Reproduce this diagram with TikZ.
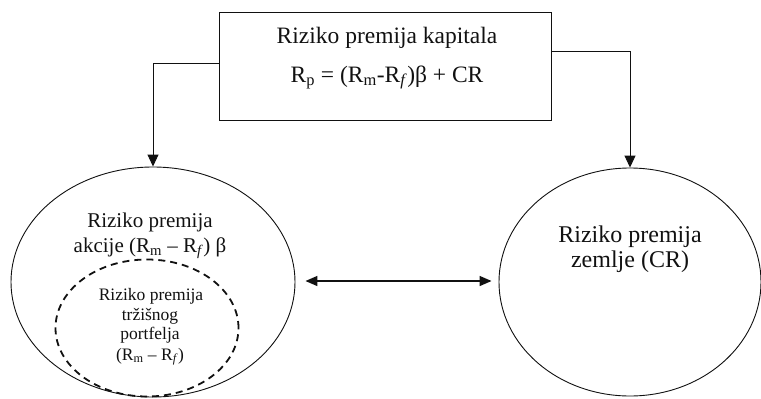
\documentclass[tikz,border=0pt]{standalone}
\usepackage{fontspec}
\setmainfont{Liberation Serif}
\usetikzlibrary{arrows.meta, shapes.geometric}
\definecolor{inkblk}{HTML}{111111}

\begin{document}
\begin{tikzpicture}[
  x=1pt, y=-1pt,
  >={Triangle[length=12pt, width=11pt]},
  conn/.style={->, inkblk, line width=1pt},
  oval/.style={ellipse, draw=inkblk, line width=0.9pt, inner sep=0pt},
  lbl/.style={inkblk, anchor=base, inner sep=0pt},
]

% ══════════════════════════════════════════════════════
% Canvas
% ══════════════════════════════════════════════════════
\useasboundingbox (0,0) rectangle (761,399);

% ══════════════════════════════════════════════════════
% Top box: capital risk premium
% ══════════════════════════════════════════════════════
\node[draw=inkblk, line width=1pt, minimum width=332pt, minimum height=108pt,
  inner sep=0pt] (kapital) at (385,66) {};
\node[lbl, font=\fontsize{23.5}{26}\selectfont] (kapT) at (387,43)
  {Riziko premija kapitala};
\node[lbl, font=\fontsize{23.5}{26}\selectfont] (kapF) at (387,82)
  {R\textsubscript{p} = (R\textsubscript{m}-R\textsubscript{\textit{f}})β + CR};

% ══════════════════════════════════════════════════════
% Ellipses
% ══════════════════════════════════════════════════════
\node[oval, minimum width=284pt, minimum height=230pt] (akcije) at (153,282) {};
\node[oval, dash pattern=on 7pt off 5pt, line width=1.8pt,
  minimum width=183pt, minimum height=137pt] (trziste) at (147,328) {};
\node[oval, minimum width=262pt, minimum height=228pt] (zemlja) at (630,282) {};

% Labels inside the left ellipse
\node[lbl, font=\fontsize{21}{24}\selectfont] (akcT1) at (150,227) {Riziko premija};
\node[lbl, font=\fontsize{21}{24}\selectfont] (akcT2) at (150,252)
  {akcije (R\textsubscript{m} – R\textsubscript{\textit{f}}) β};

% Labels inside the dashed ellipse
\node[lbl, font=\fontsize{17.5}{19}\selectfont] (trzT1) at (151,300) {Riziko premija};
\node[lbl, font=\fontsize{17.5}{19}\selectfont] (trzT2) at (150,320) {tržišnog};
\node[lbl, font=\fontsize{17.5}{19}\selectfont] (trzT3) at (150,339) {portfelja};
\node[lbl, font=\fontsize{17.5}{19}\selectfont] (trzT4) at (150,360)
  {(R\textsubscript{m} – R\textsubscript{\textit{f}})};

% Labels inside the right ellipse
\node[lbl, font=\fontsize{24}{27}\selectfont] (zemT1) at (630,242) {Riziko premija};
\node[lbl, font=\fontsize{24}{27}\selectfont] (zemT2) at (630,267) {zemlje (CR)};

% ══════════════════════════════════════════════════════
% Connectors
% ══════════════════════════════════════════════════════
\draw[conn] ([yshift=3pt]kapital.west) -| (akcije.north);
\draw[conn] ([yshift=15pt]kapital.east) -| (zemlja.north);
\draw[conn, <->, line width=1.5pt, >={Triangle[length=12pt, width=10pt]},
  shorten <=10pt, shorten >=7pt] ([yshift=1pt]akcije.east) -- ([yshift=1pt]zemlja.west);

\end{tikzpicture}
\end{document}
